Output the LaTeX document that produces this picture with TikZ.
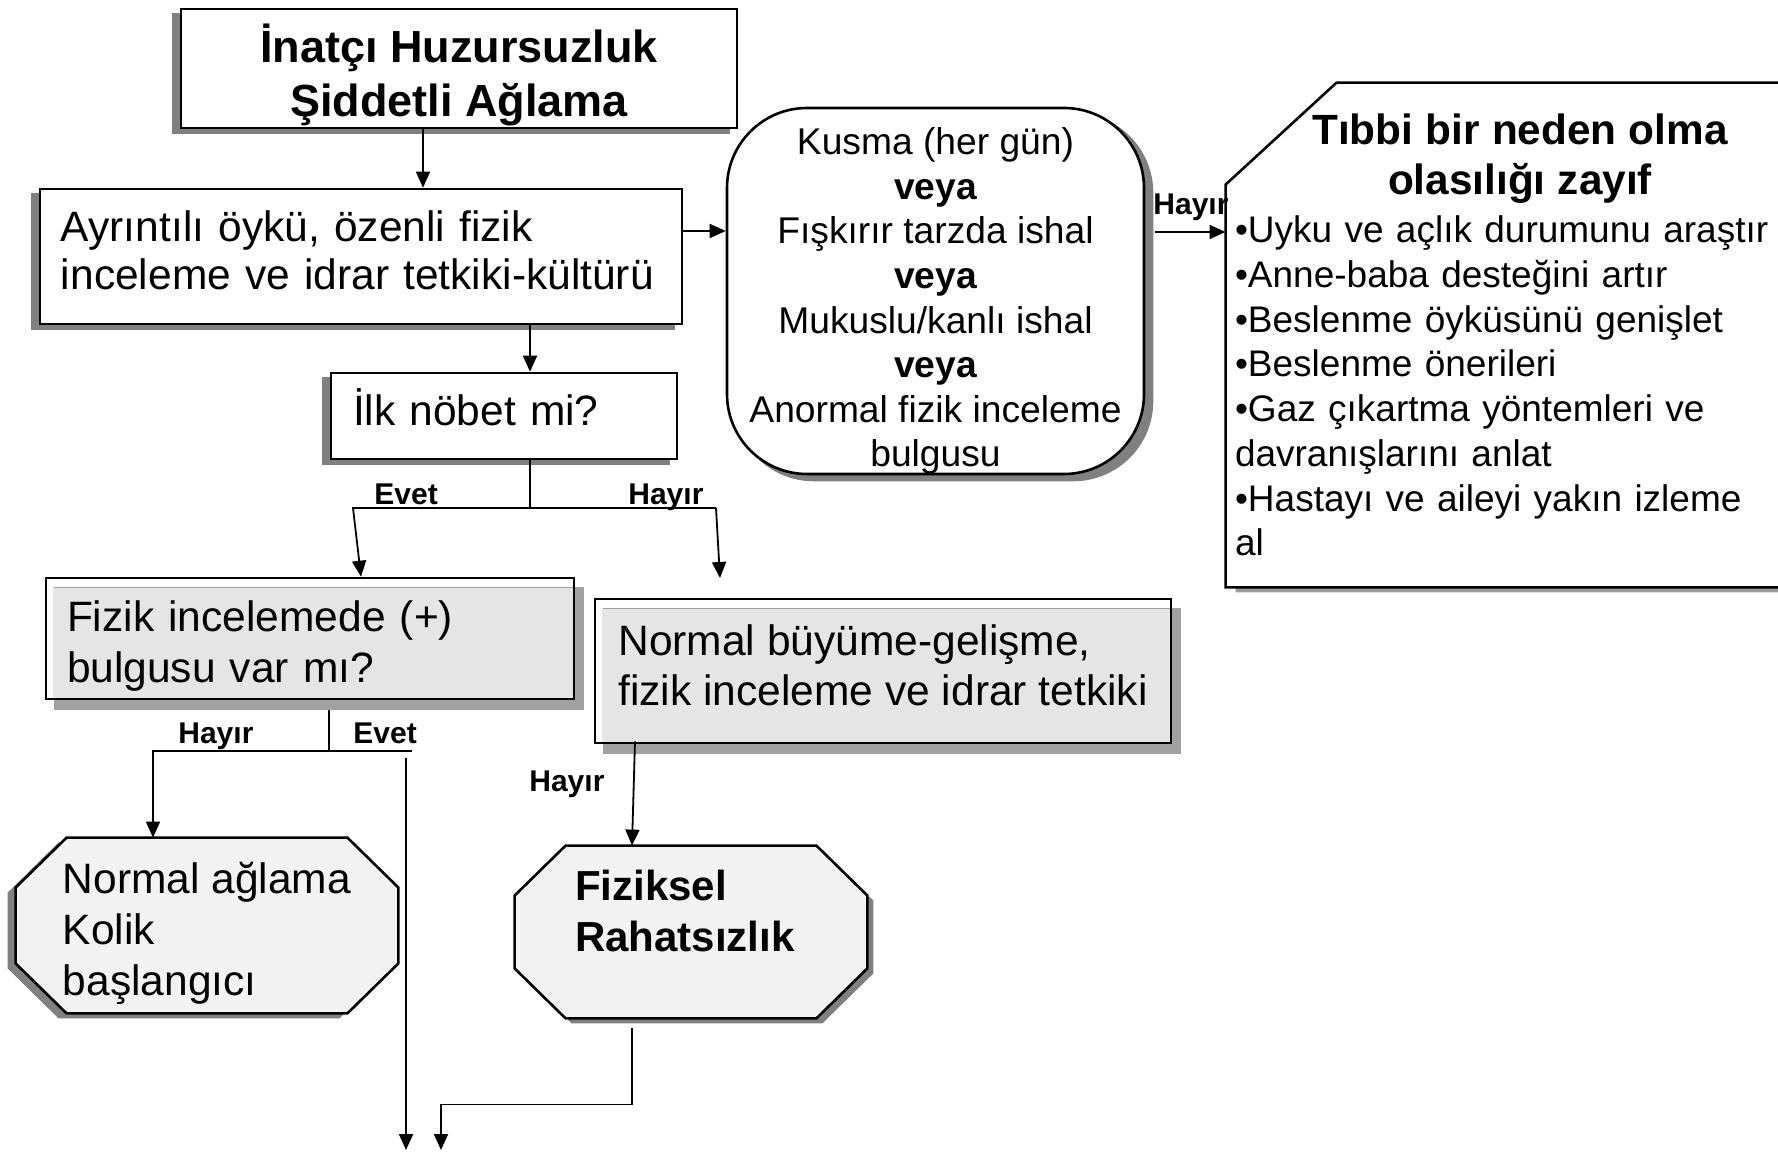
\documentclass[tikz,border=0pt]{standalone}
\usepackage{fontspec}
\setmainfont{Liberation Sans}
\usetikzlibrary{arrows.meta,positioning}
\pgfdeclarelayer{background}
\pgfsetlayers{background,main}

\tikzset{
  kutu/.style={draw, line width=1.3pt, fill=white, inner ysep=0pt, align=left, font=\fontsize{21.25}{25}\selectfont},
  gkutu/.style={draw, line width=1.3pt, inner ysep=0pt, align=left, font=\fontsize{21.25}{25.5}\selectfont},
  yuvarlak/.style={draw, line width=1.3pt, fill=white, rounded corners=40pt, inner ysep=0pt, align=center, font=\fontsize{18.6}{22.3}\selectfont},
  metin/.style={inner sep=0pt, align=left, font=\fontsize{21.25}{25.5}\selectfont},
  etiket/.style={inner sep=0pt, anchor=base west, font=\bfseries\fontsize{15}{18}\selectfont},
  ok/.style={-{Triangle[length=8pt,width=7pt]}, line width=0.9pt},
  cizgi/.style={line width=0.9pt},
  golge/.style={fill=black!50},
  agolge/.style={fill=black!37},
  adolgu/.style={fill=black!10},
  sekizyol/.style={insert path={([xshift=25.5pt]#1.north west) -- ([xshift=-25.5pt]#1.north east) -- ([yshift=-25pt]#1.north east) -- ([yshift=25pt]#1.south east) -- ([xshift=-25.5pt]#1.south east) -- ([xshift=25.5pt]#1.south west) -- ([yshift=25pt]#1.south west) -- ([yshift=-25pt]#1.north west) -- cycle}},
  tibbiyol/.style={insert path={([xshift=55.5pt]#1.north west) -- (#1.north east) -- (#1.south east) -- (#1.south west) -- ([yshift=-51pt]#1.north west) -- cycle}}
}

\begin{document}
\begin{tikzpicture}[x=0.5pt,y=-0.5pt]
\useasboundingbox (0,0) rectangle (1778,1154);

\node[kutu, align=center, font=\bfseries\fontsize{22.5}{27}\selectfont, text height=48.5pt, text depth=0pt, minimum width=278pt, minimum height=59.5pt] (top) at (459,68.5) {İnatçı Huzursuzluk\\Şiddetli Ağlama};
\node[kutu, font=\fontsize{21.25}{24}\selectfont, text width=300pt, text height=0pt, text depth=14.5pt, inner xsep=10.5pt, minimum width=321pt, minimum height=67.5pt] (ayrinti) at (361,256.5) {Ayrıntılı öykü, özenli fizik\\inceleme ve idrar tetkiki-kültürü};
\node[kutu, text width=151pt, text height=10pt, text depth=0pt, inner xsep=11pt, minimum width=173pt, minimum height=43pt] (ilk) at (504,416) {İlk nöbet mi?};
\node[yuvarlak, text height=176pt, text depth=0pt, minimum width=208.5pt, minimum height=183pt] (kusma) at (935.5,291) {Kusma (her gün)\\\textbf{veya}\\Fışkırır tarzda ishal\\\textbf{veya}\\Mukuslu/kanlı ishal\\\textbf{veya}\\Anormal fizik inceleme\\bulgusu};
\node[metin, text width=285pt, inner xsep=4.5pt, minimum width=294pt, minimum height=252pt, font=\fontsize{18.5}{22.35}\selectfont] (tibbi) at (1520,335) {{\centering\bfseries\fontsize{21.15}{25}\selectfont Tıbbi bir neden olma\\olasılığı zayıf\par}\vspace{1.8pt}\noindent\textbullet Uyku ve açlık durumunu araştır\\\textbullet Anne-baba desteğini artır\\\textbullet Beslenme öyküsünü genişlet\\\textbullet Beslenme önerileri\\\textbullet Gaz çıkartma yöntemleri ve\\davranışlarını anlat\\\textbullet Hastayı ve aileyi yakın izleme\\al};
\node[gkutu, text width=243pt, text height=0pt, text depth=6.5pt, inner xsep=10.5pt, minimum width=264pt, minimum height=60.5pt] (fizik) at (310,638.5) {Fizik incelemede (+)\\bulgusu var mı?};
\node[gkutu, font=\fontsize{21.25}{25}\selectfont, text height=34pt, text depth=0pt, minimum width=288pt, minimum height=72pt] (buyume) at (883,671) {Normal büyüme-gelişme,\\fizik inceleme ve idrar tetkiki};
\node[metin, text height=69.5pt, text depth=0pt, minimum width=191pt, minimum height=87.5pt] (aglama) at (207,925.5) {Normal ağlama\\Kolik\\başlangıcı};
\node[metin, font=\bfseries\fontsize{21}{25.5}\selectfont, text width=116pt, text height=0pt, text depth=32pt, minimum width=176pt, minimum height=86pt] (fiziksel) at (691,932) {Fiziksel\\Rahatsızlık};

\begin{pgfonlayer}{background}
\foreach \n in {top,ayrinti,ilk}
  \fill[golge] ([shift={(-8,5)}]\n.north west) rectangle ([shift={(-8,5)}]\n.south east);
\fill[golge, rounded corners=40pt] ([shift={(8,6)}]kusma.north west) rectangle ([shift={(8,6)}]kusma.south east);
\foreach \n in {fizik,buyume} {
  \fill[agolge] ([shift={(9,10)}]\n.north west) rectangle ([shift={(9,10)}]\n.south east);
  \fill[adolgu] ([shift={(8,11)}]\n.north west) rectangle (\n.south east);
}
\fill[golge, transform canvas={shift={(-4pt,-2.5pt)}}, sekizyol=aglama];
\fill[golge, transform canvas={shift={(3pt,-2.5pt)}}, sekizyol=fiziksel];
\fill[fill=black!40, transform canvas={shift={(5pt,-2.5pt)}}, tibbiyol=tibbi];
\foreach \n in {aglama,fiziksel}
  \draw[line width=1.3pt, fill=black!5, sekizyol=\n];
\draw[line width=1.3pt, fill=white, tibbiyol=tibbi];
\end{pgfonlayer}

\coordinate (h1) at (1155,232);
\coordinate (e1) at (353,508);
\coordinate (h2) at (716,508);
\coordinate (h2uc) at (720,578);
\coordinate (f1) at (153,751);
\coordinate (f2) at (412,751);
\coordinate (f3) at (406,758);
\coordinate (son1) at (406,1150);
\coordinate (son2) at (441,1150);

\draw[ok] ([xshift=-18pt]top.south) -- ([xshift=-18pt]top.south |- ayrinti.north);
\draw[ok] ([xshift=13pt]ilk.north |- ayrinti.south) -- ([xshift=13pt]ilk.north);
\draw[ok] ([yshift=12.75pt]ayrinti.east) -- ([yshift=12.75pt]ayrinti.east -| kusma.west);
\draw[ok] (h1) -- (h1 -| tibbi.west);
\draw[cizgi] ([xshift=13pt]ilk.south) -- ([xshift=13pt]ilk.south |- e1);
\draw[ok] (h2) -- (e1) -- ([xshift=25.5pt]fizik.north);
\draw[ok] (h2) -- (h2uc);
\draw[cizgi] ([xshift=9.5pt,yshift=-5pt]fizik.south) -- ([xshift=9.5pt]fizik.south |- f1);
\draw[ok] (f2) -- (f1) -- (f1 |- aglama.north);
\draw[ok] (f3) -- (son1);
\draw[ok] ([xshift=-124pt,yshift=1.5pt]buyume.south) -- ([xshift=-29.5pt]fiziksel.north);
\draw[ok] ([xshift=-29.5pt,yshift=-5pt]fiziksel.south) -- ++(0,76) -| (son2);

\node[etiket] (lh1) at (1153,215) {Hayır};
\node[etiket] (le1) at (374,505) {Evet};
\node[etiket] (lh2) at (628,505) {Hayır};
\node[etiket] (lh3) at (178,743) {Hayır};
\node[etiket] (le2) at (353,743) {Evet};
\node[etiket] (lh4) at (529,791) {Hayır};
\end{tikzpicture}
\end{document}
